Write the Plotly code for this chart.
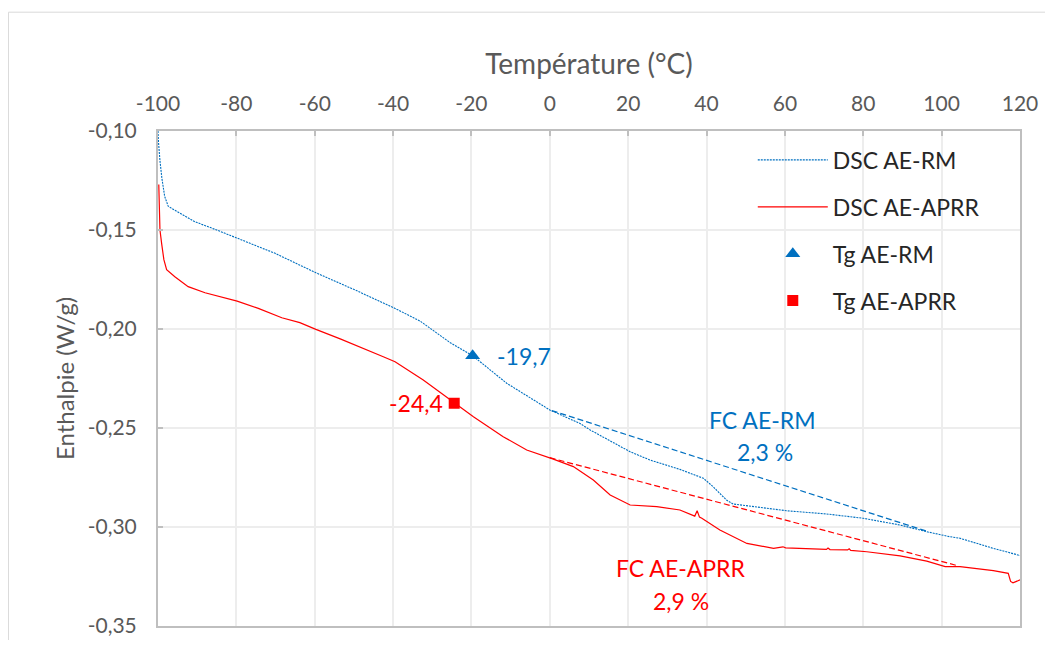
import plotly.graph_objects as go

# ---------------- data ----------------
rm_temp = [-100, -99.9, -99.5, -99.0, -98.3, -97.4, -95.7, -90.6, -85, -79.8, -70.1, -59.7,
           -53.5, -49.7, -39.5, -33.1, -25.5, -19.7, -11, 0, 7.7, 10.3, 20.5, 25.6, 33.2,
           39.2, 41.7, 45.1, 46.8, 53.6, 60.4, 70.6, 80, 89.4, 96.2, 102.1, 104.7, 113.2, 120.4]
rm_enth = [-0.100, -0.105, -0.115, -0.124, -0.133, -0.138, -0.140, -0.1458, -0.150, -0.1542,
           -0.1618, -0.1716, -0.1769, -0.1803, -0.1896, -0.1960, -0.2068, -0.2135, -0.2274,
           -0.2409, -0.2477, -0.2510, -0.2620, -0.2662, -0.2709, -0.2754, -0.2797, -0.2864,
           -0.2884, -0.2901, -0.2918, -0.2934, -0.2956, -0.2990, -0.3024, -0.3049, -0.3057,
           -0.3108, -0.3146]

aprr_temp = [-99.8, -99.7, -99.5, -99.06, -98.5, -97.8, -95.7, -92.3, -88, -79.8, -74.4, -68.4,
             -63.8, -59.7, -53.5, -42.5, -39.5, -32.3, -24.4, -19.5, -11.9, -5.9, 0.9, 6, 11.1,
             15.4, 20.5, 27.3, 33.2, 37.0, 37.6, 38.2, 38.8, 43.4, 50.3, 57.1, 59.5, 60.2,
             70.6, 71.0, 71.5, 76.0, 76.4, 76.8, 80.9, 89.4, 96.2, 100.9, 104.7, 113.2,
             117.0, 117.6, 118.2, 120.4]
aprr_enth = [-0.127, -0.140, -0.150, -0.157, -0.165, -0.170, -0.1736, -0.1786, -0.1817,
             -0.1859, -0.1896, -0.1943, -0.1968, -0.2002, -0.2050, -0.2140, -0.2165, -0.2258,
             -0.2375, -0.2443, -0.2544, -0.2611, -0.2657, -0.2695, -0.2763, -0.2838, -0.2889,
             -0.2897, -0.2914, -0.2945, -0.2918, -0.2950, -0.2956, -0.3015, -0.3083, -0.3108,
             -0.3100, -0.3105, -0.3113, -0.3106, -0.3114, -0.3116, -0.3110, -0.3118, -0.3125,
             -0.3146, -0.3172, -0.3200, -0.3200, -0.3220, -0.3234, -0.3275, -0.3282, -0.3264]

# tangent (baseline) lines used for the FC estimate
fc_rm_temp = [0.5, 96.0]
fc_rm_enth = [-0.2412, -0.3020]
fc_aprr_temp = [0.0, 104.0]
fc_aprr_enth = [-0.2650, -0.3195]

# glass transition points
tg_rm = (-19.7, -0.2135)
tg_aprr = (-24.4, -0.2375)

fc_rm_label = ["FC AE-RM", "2,3 %"]
fc_aprr_label = ["FC AE-APRR", "2,9 %"]

x_ticks = [-100, -80, -60, -40, -20, 0, 20, 40, 60, 80, 100, 120]
x_ticktext = ["-100", "-80", "-60", "-40", "-20", "0", "20", "40", "60", "80", "100", "120"]
y_ticks = [-0.35, -0.30, -0.25, -0.20, -0.15, -0.10]
y_ticktext = ["-0,35", "-0,30", "-0,25", "-0,20", "-0,15", "-0,10"]

BLUE = "#0070C0"
RED = "#FF0000"
GREY_TXT = "#595959"
FONT = "Lato"

fig = go.Figure()

fig.add_trace(go.Scatter(x=rm_temp, y=rm_enth, mode="lines", name="DSC AE-RM",
                         legendgroup="a",
                         line=dict(color=BLUE, width=1.1, dash="2px,1px")))
fig.add_trace(go.Scatter(x=aprr_temp, y=aprr_enth, mode="lines", name="DSC AE-APRR",
                         legendgroup="b",
                         line=dict(color=RED, width=1.2)))
fig.add_trace(go.Scatter(x=[tg_rm[0]], y=[tg_rm[1]], mode="markers", name="Tg AE-RM",
                         legendgroup="c",
                         marker=dict(symbol="triangle-up", size=13, color=BLUE)))
fig.add_trace(go.Scatter(x=[tg_aprr[0]], y=[tg_aprr[1]], mode="markers", name="Tg AE-APRR",
                         legendgroup="d",
                         marker=dict(symbol="square", size=11, color=RED)))
fig.add_trace(go.Scatter(x=fc_rm_temp, y=fc_rm_enth, mode="lines", showlegend=False,
                         line=dict(color=BLUE, width=1.2, dash="6px,3px")))
fig.add_trace(go.Scatter(x=fc_aprr_temp, y=fc_aprr_enth, mode="lines", showlegend=False,
                         line=dict(color=RED, width=1.2, dash="6px,3px")))

def fmt(v):
    return f"{v:.1f}".replace(".", ",")

annos = [
    dict(x=tg_rm[0], y=tg_rm[1], text=fmt(tg_rm[0]), xanchor="left", yanchor="middle",
         xshift=22, font=dict(color=BLUE, size=23, family=FONT), showarrow=False),
    dict(x=tg_aprr[0], y=tg_aprr[1], text=fmt(tg_aprr[0]), xanchor="right", yanchor="middle",
         xshift=-9, font=dict(color=RED, size=23, family=FONT), showarrow=False),
    dict(x=54.4, y=-0.2460, text=fc_rm_label[0], xanchor="center", yanchor="middle",
         font=dict(color=BLUE, size=23, family=FONT), showarrow=False),
    dict(x=54.9, y=-0.2621, text=fc_rm_label[1], xanchor="center", yanchor="middle",
         font=dict(color=BLUE, size=23, family=FONT), showarrow=False),
    dict(x=33.5, y=-0.3207, text=fc_aprr_label[0], xanchor="center", yanchor="middle",
         font=dict(color=RED, size=23, family=FONT), showarrow=False),
    dict(x=33.5, y=-0.3374, text=fc_aprr_label[1], xanchor="center", yanchor="middle",
         font=dict(color=RED, size=23, family=FONT), showarrow=False),
]

# page body has an 8px margin: figure occupies 8..1045 x 8..640 of the window
fig.update_layout(
    width=1037, height=632,
    margin=dict(l=150, r=25, t=123, b=14),
    paper_bgcolor="white", plot_bgcolor="white",
    font=dict(family=FONT, color=GREY_TXT),
    annotations=annos,
    legend=dict(x=0.69, y=0.985, xanchor="left", yanchor="top",
                bgcolor="rgba(0,0,0,0)", font=dict(size=23, color="#262626", family=FONT),
                itemwidth=70, tracegroupgap=14, traceorder="grouped"),
    shapes=[dict(type="rect", xref="paper", yref="paper",
                 x0=-0.1735, x1=1.06, y0=-0.08, y1=1.240,
                 line=dict(color="#D9D9D9", width=1), layer="below")],
)

fig.update_xaxes(
    side="top", range=[-100, 120], tickvals=x_ticks, ticktext=x_ticktext,
    automargin=False,
    showgrid=True, gridcolor="#EDEDED", gridwidth=1.5, zeroline=False,
    showline=True, linecolor="#BFBFBF", linewidth=2, mirror=True,
    ticks="inside", ticklen=5, tickcolor="#BFBFBF", tickwidth=2,
    tickfont=dict(size=21, color=GREY_TXT, family=FONT), ticklabelstandoff=10,
    title=dict(text="Température (°C)", font=dict(size=28, color=GREY_TXT, family=FONT),
               standoff=7),
)
fig.update_yaxes(
    range=[-0.35, -0.10], tickvals=y_ticks, ticktext=y_ticktext,
    automargin=False,
    showgrid=True, gridcolor="#EDEDED", gridwidth=1.5, zeroline=False,
    showline=True, linecolor="#BFBFBF", linewidth=2, mirror=True,
    ticks="inside", ticklen=5, tickcolor="#BFBFBF", tickwidth=2,
    tickfont=dict(size=21, color=GREY_TXT, family=FONT), ticklabelstandoff=15,
    title=dict(text="Enthalpie (W/g)", font=dict(size=24, color=GREY_TXT, family=FONT),
               standoff=6),
)

fig.write_html("out.html")
